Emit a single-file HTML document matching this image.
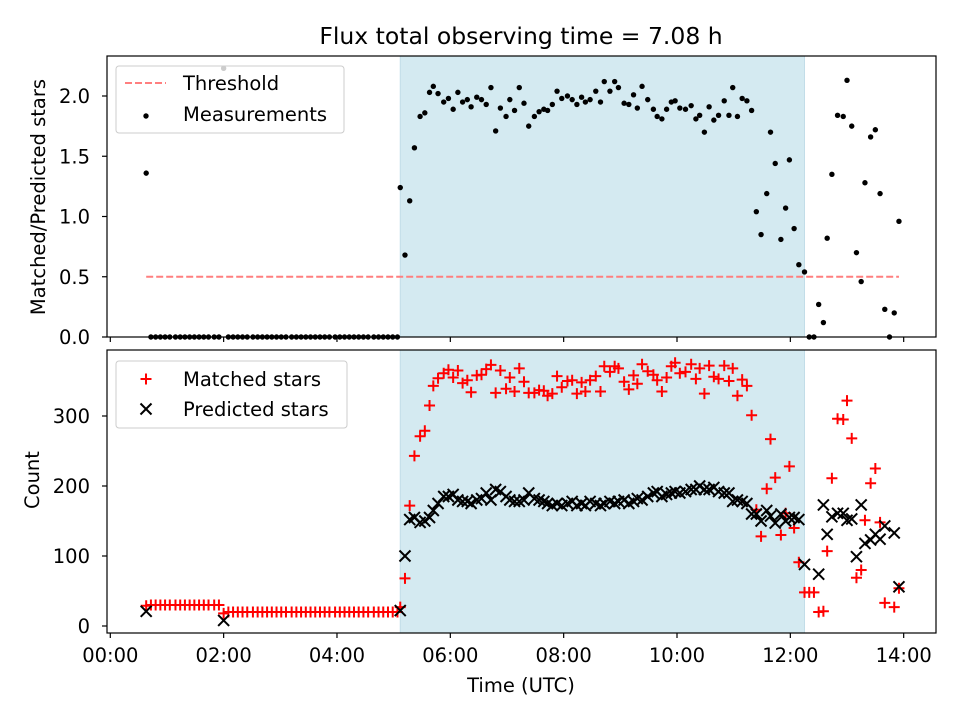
<!DOCTYPE html>
<html><head><meta charset="utf-8"><style>
body{margin:0;background:#fff}
svg text{font-family:"DejaVu Sans","Liberation Sans",sans-serif;fill:#000}
</style></head><body>
<svg id="chart" width="960" height="720" xmlns="http://www.w3.org/2000/svg">
<text x="521" y="44" font-size="23.5" text-anchor="middle">Flux total observing time = 7.08 h</text>
<g id="topPlot"></g><g id="botPlot"></g>
</svg>
<script>
// times in minutes since 00:00 UTC
const times=[38,43,48,53,58,63,69,74,79,84,89,94,99,104,110,115,120,125,130,135,140,145,151,156,161,166,171,176,181,186,192,197,202,207,212,217,222,227,232,238,243,248,253,258,263,268,273,279,284,289,294,299,304,
307,312,317,322,328,333,338,342,347,353,358,363,368,373,378,382,388,393,398,403,408,413,419,423,428,433,438,443,449,454,459,463,468,473,478,484,489,494,499,503,508,514,519,523,529,534,538,544,549,554,558,563,569,575,579,584,589,594,598,603,609,615,620,624,629,634,639,644,650,655,659,664,669,674,679,684,689,695,699,704,710,715,719,724,729,735,
740,745,750,755,759,764,770,776,780,785,790,795,799,805,810,815,820,825,830,835];
const ratios=[1.36,0,0,0,0,0,0,0,0,0,0,0,0,0,0,0,2.23,0,0,0,0,0,0,0,0,0,0,0,0,0,0,0,0,0,0,0,0,0,0,0,0,0,0,0,0,0,0,0,0,0,0,0,0,
1.24,0.68,1.13,1.57,1.83,1.86,2.03,2.08,2.02,1.95,1.98,1.89,2.03,1.95,1.97,1.91,1.99,1.97,1.93,2.07,1.71,1.90,1.83,1.97,1.88,2.07,1.94,1.75,1.83,1.87,1.89,1.88,1.93,2.04,1.98,2.00,1.97,1.93,1.99,1.95,1.97,2.04,1.95,2.12,2.04,2.12,2.07,1.94,1.93,2.01,1.90,2.08,1.97,1.89,1.83,1.81,1.89,1.95,1.96,1.90,1.89,1.92,1.81,1.84,1.70,1.91,1.80,1.84,1.96,1.84,2.07,1.83,1.98,1.96,1.88,1.04,0.85,1.19,1.70,1.44,0.81,1.07,1.47,0.90,0.60,0.54,
0,0,0.27,0.12,0.82,1.35,1.84,1.83,2.13,1.75,0.70,0.46,1.28,1.66,1.72,1.19,0.23,0,0.20,0.96];
const matched=[29,30,30,30,30,30,30,30,30,30,30,30,30,30,30,30,18,20,20,20,20,20,20,20,20,20,20,20,20,20,20,20,20,20,20,20,20,20,20,20,20,20,20,20,20,20,20,20,20,20,20,20,20,
27,68,172,243,271,279,315,343,354,361,366,355,365,347,351,334,358,359,367,373,333,365,339,355,335,368,349,333,333,337,336,329,332,357,341,350,351,332,348,335,351,357,335,371,363,371,368,349,338,358,346,374,364,359,351,335,355,371,376,361,363,374,353,368,332,372,356,353,372,350,368,329,352,343,301,166,128,196,267,212,130,161,228,140,91,48,
48,48,20,21,107,211,296,295,322,268,69,80,151,204,225,148,33,null,27,54];
const predicted=[21,null,null,null,null,null,null,null,null,null,null,null,null,null,null,null,8,null,null,null,null,null,null,null,null,null,null,null,null,null,null,null,null,null,null,null,null,null,null,null,null,null,null,null,null,null,null,null,null,null,null,null,null,
22,100,152,155,148,150,155,165,175,185,185,188,180,178,178,175,180,182,190,180,195,192,185,180,178,178,180,190,182,180,178,175,172,175,172,175,178,172,175,172,178,175,172,175,178,175,178,180,175,178,182,180,185,190,192,185,188,190,192,190,192,195,195,200,195,195,198,192,190,190,178,180,178,175,160,160,150,165,157,147,160,150,155,155,152,88,
null,null,74,173,131,156,161,161,151,153,99,173,118,123,131,124,143,null,133,56];
const threshold=0.5;
const spanStart=307, spanEnd=735;
const xTicks=[0,120,240,360,480,600,720,840];
const xTickLabels=["00:00","02:00","04:00","06:00","08:00","10:00","12:00","14:00"];
const topTicks=[0,0.5,1,1.5,2];
const topTickLabels=["0.0","0.5","1.0","1.5","2.0"];
const botTicks=[0,100,200,300];

const NS="http://www.w3.org/2000/svg";
const L=107,R=936,T1=56,B1=337,T2=350,B2=633;
const FS=19.5;
const xs=m=>110.3+m/60*56.67;
const yTop=v=>337-v*120.5;
const yBot=v=>626-v*0.7;
function mk(p,tag,a){const e=document.createElementNS(NS,tag);for(const k in a)e.setAttribute(k,a[k]);p.appendChild(e);return e;}
const gTop=document.getElementById('topPlot'),gBot=document.getElementById('botPlot');

function axes(g,T,B,name){
  const s=mk(g,'rect',{x:xs(spanStart),y:T,width:xs(spanEnd)-xs(spanStart),height:B-T,fill:'#d4eaf1',stroke:'#c2dde8','stroke-width':1});
  
  
}
function frame(g,T,B,name,labels){
  const f=mk(g,'rect',{x:L,y:T,width:R-L,height:B-T,fill:'none',stroke:'#000','stroke-width':1.2});
  
  
  xTicks.forEach((t,i)=>{
    mk(g,'line',{x1:xs(t),x2:xs(t),y1:B,y2:B+5,stroke:'#000','stroke-width':1.2});
    if(labels){const tx=mk(g,'text',{x:xs(t),y:B+29,'font-size':FS,'text-anchor':'middle'});tx.textContent=xTickLabels[i];
      
      }
  });
}
axes(gTop,T1,B1,'top');
axes(gBot,T2,B2,'bottom');

const th=mk(gTop,'line',{x1:xs(times[0]),x2:xs(times[times.length-1]),y1:yTop(threshold),y2:yTop(threshold),stroke:'#ff7f7f','stroke-width':2,'stroke-dasharray':'7,3'});



times.forEach((t,i)=>{
  if(ratios[i]!==null){const c=mk(gTop,'circle',{cx:xs(t),cy:yTop(ratios[i]),r:2.7,fill:'#000'});
    
    }
});
function plus(g,x,y){return mk(g,'path',{d:`M${x-5.5},${y}H${x+5.5}M${x},${y-5.5}V${y+5.5}`,stroke:'#ff0000','stroke-width':2});}
function cross(g,x,y){return mk(g,'path',{d:`M${x-5.5},${y-5.5}L${x+5.5},${y+5.5}M${x-5.5},${y+5.5}L${x+5.5},${y-5.5}`,stroke:'#000','stroke-width':2});}
times.forEach((t,i)=>{
  if(matched[i]!==null){const p=plus(gBot,xs(t),yBot(matched[i]));
    
    }
});
times.forEach((t,i)=>{
  if(predicted[i]!==null){const p=cross(gBot,xs(t),yBot(predicted[i]));
    
    }
});
frame(gTop,T1,B1,'top',false);
frame(gBot,T2,B2,'bottom',true);

topTicks.forEach((v,i)=>{
  mk(gTop,'line',{x1:L-5,x2:L,y1:yTop(v),y2:yTop(v),stroke:'#000','stroke-width':1.2});
  const tx=mk(gTop,'text',{x:L-17,y:yTop(v)+7,'font-size':FS,'text-anchor':'end'});tx.textContent=topTickLabels[i];
  
  
});
botTicks.forEach(v=>{
  mk(gBot,'line',{x1:L-5,x2:L,y1:yBot(v),y2:yBot(v),stroke:'#000','stroke-width':1.2});
  const tx=mk(gBot,'text',{x:L-17,y:yBot(v)+7,'font-size':FS,'text-anchor':'end'});tx.textContent=String(v);
  
  
});
function txt(g,s,x,y,size,name,rot,anchor){const t=mk(g,'text',{x:x,y:y,'font-size':size,'text-anchor':anchor||'middle'});if(rot)t.setAttribute('transform',`rotate(-90 ${x} ${y})`);t.textContent=s;
  
  return t;}
txt(gTop,'Matched/Predicted stars',45,197,FS,'top-y-axis-title',true);
txt(gBot,'Count',39,480,FS,'bottom-y-axis-title',true);
txt(gBot,'Time (UTC)',521,692,FS,'x-axis-title');

const lg1=mk(gTop,'rect',{x:116,y:66,width:228,height:67,rx:3,fill:'#fff','fill-opacity':0.8,stroke:'#ccc'});


mk(gTop,'line',{x1:125,x2:166,y1:83,y2:83,stroke:'#ff7f7f','stroke-width':2,'stroke-dasharray':'7,3'});
txt(gTop,'Threshold',183,90,FS,'legend-threshold',false,'start');
mk(gTop,'circle',{cx:146,cy:116,r:2.7,fill:'#000'});
txt(gTop,'Measurements',183,121,FS,'legend-measurements',false,'start');
const lg2=mk(gBot,'rect',{x:116,y:361,width:231,height:67,rx:3,fill:'#fff','fill-opacity':0.8,stroke:'#ccc'});


plus(gBot,146,379);
txt(gBot,'Matched stars',183,386,FS,'legend-matched-stars',false,'start');
cross(gBot,146,409);
txt(gBot,'Predicted stars',183,416,FS,'legend-predicted-stars',false,'start');
</script>
</body></html>
